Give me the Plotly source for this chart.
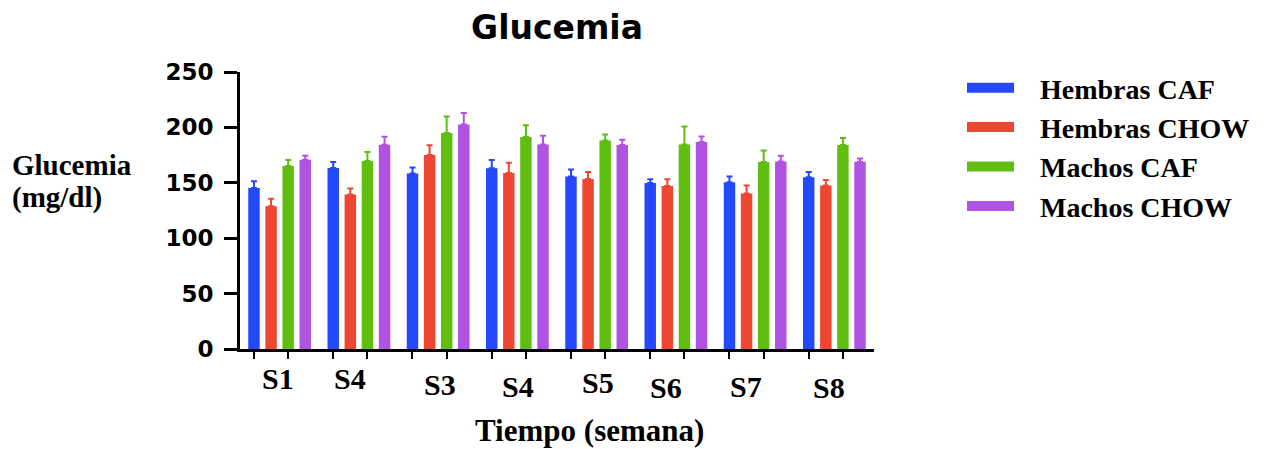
import plotly.graph_objects as go
import numpy as np

# ---- data ----
weeks = ["S1", "S4", "S3", "S4", "S5", "S6", "S7", "S8"]
series_names = ["Hembras CAF", "Hembras CHOW", "Machos CAF", "Machos CHOW"]
hembras_caf = [145.4, 163.4, 158.3, 163.1, 155.6, 149.9, 150.5, 155.0]
hembras_caf_err = [6.0, 5.4, 5.5, 7.5, 6.5, 3.3, 5.1, 4.8]
hembras_chow = [128.9, 139.4, 175.1, 158.9, 153.5, 147.2, 140.3, 147.5]
hembras_chow_err = [6.6, 5.4, 8.9, 9.3, 6.3, 6.0, 7.2, 5.1]
machos_caf = [165.2, 169.7, 194.9, 191.3, 188.2, 184.6, 168.8, 184.1]
machos_caf_err = [5.4, 8.1, 14.9, 10.7, 5.4, 16.2, 10.4, 6.3]
machos_chow = [170.9, 184.4, 202.6, 184.6, 184.1, 186.8, 169.3, 169.1]
machos_chow_err = [3.6, 7.1, 10.5, 7.8, 4.7, 5.0, 5.2, 2.9]
y_ticks = [0, 50, 100, 150, 200, 250]

# ---- styles ----
colors = ["#2348FE", "#EE4630", "#5FBE10", "#B052E2"]
label_dx = [-2, -9, 2, 1, 1, -10, -9, -5]        # px shifts of week labels
label_dy = [-29, -29, -35, -37, -33, -38, -37, -38]
BARGAP = 0.137
W, H = 1273, 449
ML, MR, MT, MB = 240, W - 874, 72, H - 349
PAD = "\u00a0\u00a0\u00a0"   # visual gap between legend swatch and text

values = [hembras_caf, hembras_chow, machos_caf, machos_chow]
errors = [hembras_caf_err, hembras_chow_err, machos_caf_err, machos_chow_err]
xpos = np.arange(len(weeks))

fig = go.Figure()
for name, v, e, c in zip(series_names, values, errors, colors):
    fig.add_trace(go.Bar(
        x=xpos, y=v, name=name, marker=dict(color=c, line=dict(width=0)),
        showlegend=False,
        error_y=dict(type="data", array=e, arrayminus=[0] * len(e),
                     symmetric=False, color=c, thickness=2, width=3),
    ))
for name, c in zip(series_names, colors):
    fig.add_trace(go.Scatter(x=[None], y=[None], mode="lines", name=PAD + name,
                             line=dict(color=c, width=15)))

# tick marks under the blue and green bars of each group
slot = (1 - BARGAP) / 4
tickpos = sorted([i - 1.5 * slot for i in xpos] + [i + 0.5 * slot for i in xpos])

serif = "Liberation Serif"
for i, (lab, dx, dy) in enumerate(zip(weeks, label_dx, label_dy)):
    fig.add_annotation(x=int(xpos[i]), y=0, xref="x", yref="y", text=lab,
                       showarrow=False, xshift=dx, yshift=dy, yanchor="middle",
                       font=dict(family=serif, size=30, color="black", weight="bold"))

fig.add_annotation(x=-0.362, y=(349 - 165) / 277, xref="paper", yref="paper",
                   text="Glucemia", showarrow=False, xanchor="left", yanchor="middle",
                   font=dict(family=serif, size=29, color="black", weight="bold"))
fig.add_annotation(x=-0.362, y=(349 - 197) / 277, xref="paper", yref="paper",
                   text="(mg/dl)", showarrow=False, xanchor="left", yanchor="middle",
                   font=dict(family=serif, size=29, color="black", weight="bold"))
fig.add_annotation(x=(589 - 240) / 634, y=(349 - 430) / 277, xref="paper", yref="paper",
                   text="Tiempo (semana)", showarrow=False, xanchor="center", yanchor="middle",
                   font=dict(family=serif, size=31, color="black", weight="bold"))

fig.update_layout(
    width=W, height=H,
    margin=dict(l=ML, r=MR, t=MT, b=MB, pad=0),
    plot_bgcolor="white", paper_bgcolor="white",
    barmode="group", bargap=BARGAP, bargroupgap=0.33,
    title=dict(text="Glucemia", x=0.5, xref="paper", xanchor="center",
               y=1 - 27 / H, yref="container", yanchor="middle",
               font=dict(family="DejaVu Sans", size=33, color="black", weight="bold")),
    xaxis=dict(range=[-0.5, len(weeks) - 0.5], showgrid=False, zeroline=False,
               showline=True, linecolor="black", linewidth=3,
               tickmode="array", tickvals=tickpos, showticklabels=False,
               ticks="outside", ticklen=7, tickwidth=2, tickcolor="black"),
    yaxis=dict(range=[0, 250], showgrid=False, zeroline=False,
               showline=True, linecolor="black", linewidth=3,
               tickmode="array", tickvals=y_ticks,
               ticks="outside", ticklen=13, tickwidth=3, tickcolor="black",
               ticklabelstandoff=6,
               tickfont=dict(family="DejaVu Sans", size=23, color="black", weight="bold")),
    legend=dict(x=962 / W, y=1 - 63 / H, xref="container", yref="container",
                xanchor="left", yanchor="top", itemwidth=47, tracegroupgap=0,
                font=dict(family=serif, size=28, color="black", weight="bold"),
                bgcolor="rgba(0,0,0,0)"),
)

fig.write_html("out.html")
